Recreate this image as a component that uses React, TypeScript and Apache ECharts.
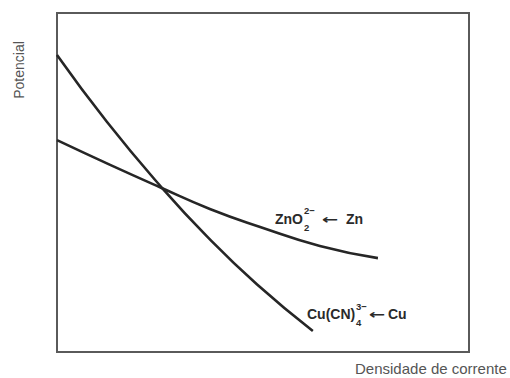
import React, { useEffect, useRef } from "react";
import * as echarts from "echarts";

// Curve data (arbitrary units, 0..100 on both axes)
const cuX = [0, 12.1, 25.0, 36.4, 48.5, 62.1];
const cuY = [87.6, 67.9, 49.1, 34.1, 20.0, 6.2];
const znX = [0, 12.9, 25.0, 37.1, 49.3, 63.8, 77.9];
const znY = [62.5, 55.2, 48.6, 42.2, 36.9, 31.3, 27.7];

const xAxisTitle = "Densidade de corrente";
const yAxisTitle = "Potencial";

const znLabelMain = "ZnO";
const znLabelSup = "2−";
const znLabelSub = "2";
const znLabelEnd = "Zn";
const cuLabelMain = "Cu(CN)";
const cuLabelSup = "3−";
const cuLabelSub = "4";
const cuLabelEnd = "Cu";
const arrow = "←";

const FONT = "'Liberation Sans', Arial, Helvetica, sans-serif";
const ARROW_FONT = "'DejaVu Sans', sans-serif";

function txt(
  text: string,
  x: number,
  y: number,
  size: number,
  weight: string,
  fill: string,
  opts: { rotation?: number; align?: string; family?: string; scaleX?: number } = {}
) {
  const align = opts.align || "left";
  return {
    type: "text",
    x,
    y,
    rotation: opts.rotation || 0,
    scaleX: opts.scaleX || 1,
    silent: true,
    style: {
      text,
      fill,
      font: `${weight} ${size}px ${opts.family || FONT}`,
      textAlign: align,
      align,
      textVerticalAlign: "middle",
      verticalAlign: "middle",
    },
  };
}

export default function App() {
  const ref = useRef<HTMLDivElement>(null);
  useEffect(() => {
    if (!ref.current) return;
    const chart = echarts.init(ref.current, null, { renderer: "svg" });
    const lineColor = "#262626";
    const labelColor = "#2a2a2a";
    chart.setOption({
      animation: false,
      backgroundColor: "#ffffff",
      grid: {
        left: 57,
        top: 13,
        right: 41,
        bottom: 26,
        show: true,
        borderColor: "#5a5a5a",
        borderWidth: 2,
        backgroundColor: "transparent",
      },
      xAxis: {
        type: "value",
        min: 0,
        max: 100,
        axisLine: { show: false },
        axisTick: { show: false },
        axisLabel: { show: false },
        splitLine: { show: false },
      },
      yAxis: {
        type: "value",
        min: 0,
        max: 100,
        axisLine: { show: false },
        axisTick: { show: false },
        axisLabel: { show: false },
        splitLine: { show: false },
      },
      series: [
        {
          type: "line",
          name: "Cu",
          data: cuX.map((x, i) => [x, cuY[i]]),
          smooth: true,
          showSymbol: false,
          lineStyle: { color: lineColor, width: 2.6 },
        },
        {
          type: "line",
          name: "Zn",
          data: znX.map((x, i) => [x, znY[i]]),
          smooth: true,
          showSymbol: false,
          lineStyle: { color: lineColor, width: 2.6 },
        },
      ],
      graphic: [
        txt(yAxisTitle, 19, 70, 14, "normal", "#555555", { rotation: Math.PI / 2, align: "center" }),
        txt(xAxisTitle, 355, 368, 15, "normal", "#555555"),
        // ZnO2 2- <- Zn
        txt(znLabelMain, 275, 219, 14, "bold", labelColor),
        txt(znLabelSup, 304, 210, 9.5, "bold", labelColor),
        txt(znLabelSub, 304, 227, 9.5, "bold", labelColor),
        txt(arrow, 322, 220, 13, "bold", labelColor, { family: ARROW_FONT, scaleX: 1.5 }),
        txt(znLabelEnd, 346, 219, 14, "bold", labelColor),
        // Cu(CN)4 3- <- Cu
        txt(cuLabelMain, 307, 314, 14, "bold", labelColor),
        txt(cuLabelSup, 356, 306, 9.5, "bold", labelColor),
        txt(cuLabelSub, 356, 322, 9.5, "bold", labelColor),
        txt(arrow, 369, 315, 13, "bold", labelColor, { family: ARROW_FONT, scaleX: 1.5 }),
        txt(cuLabelEnd, 388, 314, 14, "bold", labelColor),
      ],
    });
    return () => chart.dispose();
  }, []);
  return (
    <div
      ref={ref}
      style={{ position: "absolute", left: 0, top: 0, width: 510, height: 378, background: "#fff" }}
    />
  );
}
